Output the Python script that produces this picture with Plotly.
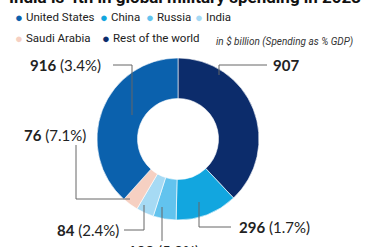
import plotly.graph_objects as go

# ---- data ----
categories = ["Rest of the world", "China", "Russia", "India", "Saudi Arabia", "United States"]
spending = [907, 296, 109, 84, 76, 916]
gdp_share = ["", "1.7%", "5.9%", "2.4%", "7.1%", "3.4%"]
colors = ["#0c2c6b", "#12a6df", "#62c3ee", "#a6daf4", "#f6d0c2", "#0b61ad"]

legend_order = ["United States", "China", "Russia", "India", "Saudi Arabia", "Rest of the world"]

W, H = 370, 247
def X(px): return px / W
def Y(py): return 1 - py / H

# pie geometry (pixels)
cx, cy, r = 178, 139, 81

fig = go.Figure()
fig.add_trace(go.Pie(
    labels=categories, values=spending, marker=dict(colors=colors, line=dict(color="white", width=0.6)),
    sort=False, direction="clockwise", rotation=0, hole=0.5,
    textinfo="none", hoverinfo="label+value", showlegend=False,
    domain=dict(x=[X(cx - r), X(cx + r)], y=[Y(cy + r), Y(cy - r)]),
))

ann = []
# title (cut off at top)
ann.append(dict(text="<b>India is 4th in global military spending in 2023</b>", x=X(185), y=Y(-3),
                xanchor="center", yanchor="middle", showarrow=False,
                font=dict(family="Roboto", size=17, color="#111")))

# legend
col = dict(zip(categories, colors))
legend_pos = {
    "United States": (19, 17), "China": (104, 17), "Russia": (150, 17), "India": (199, 17),
    "Saudi Arabia": (19, 38), "Rest of the world": (106, 38),
}
for name in legend_order:
    lx, ly = legend_pos[name]
    ann.append(dict(text="●", x=X(lx), y=Y(ly + 0.5), xanchor="center", yanchor="middle", showarrow=False,
                    font=dict(size=13, color=col[name])))
    ann.append(dict(text=name, x=X(lx + 5), y=Y(ly), xanchor="left", yanchor="middle", showarrow=False,
                    font=dict(family="Roboto", size=11.5, color="#222")))

ann.append(dict(text="<i>in $ billion (Spending as % GDP)</i>", x=X(355), y=Y(41), xanchor="right",
                yanchor="middle", showarrow=False,
                font=dict(family="Roboto", size=10, color="#333")))

def label(i):
    v = spending[i]
    g = gdp_share[i]
    return f"<b>{v}</b>" + (f" ({g})" if g else "")

lab_font = dict(family="Lato, Open Sans", size=15, color="#222")
idx = {c: i for i, c in enumerate(categories)}
labels_pos = [
    ("United States", 103, 65, "right"),
    ("Saudi Arabia", 88, 135, "right"),
    ("Rest of the world", 271, 65, "left"),
    ("India", 121, 230, "right"),
    ("China", 237, 227, "left"),
    ("Russia", 163, 251, "center"),
]
for name, lx, ly, anc in labels_pos:
    ann.append(dict(text=label(idx[name]), x=X(lx), y=Y(ly), xanchor=anc, yanchor="middle",
                    showarrow=False, font=lab_font))

# leader lines
leaders = [
    [(113, 65), (132, 65), (132, 115)],
    [(76, 145), (76, 199), (130, 199)],
    [(267, 65), (219, 65), (219, 75)],
    [(124, 230), (144, 230), (144, 205)],
    [(231, 227), (199, 227), (199, 202)],
    [(162, 241), (162, 207)],
]
shapes = []
for pts in leaders:
    for (x0, y0), (x1, y1) in zip(pts[:-1], pts[1:]):
        shapes.append(dict(type="line", xref="paper", yref="paper", x0=X(x0), y0=Y(y0), x1=X(x1), y1=Y(y1),
                           line=dict(color="#666", width=1)))

fig.update_layout(width=W, height=H, margin=dict(l=0, r=0, t=0, b=0),
                  paper_bgcolor="white", plot_bgcolor="white",
                  annotations=ann, shapes=shapes)
fig.write_html("out.html")
